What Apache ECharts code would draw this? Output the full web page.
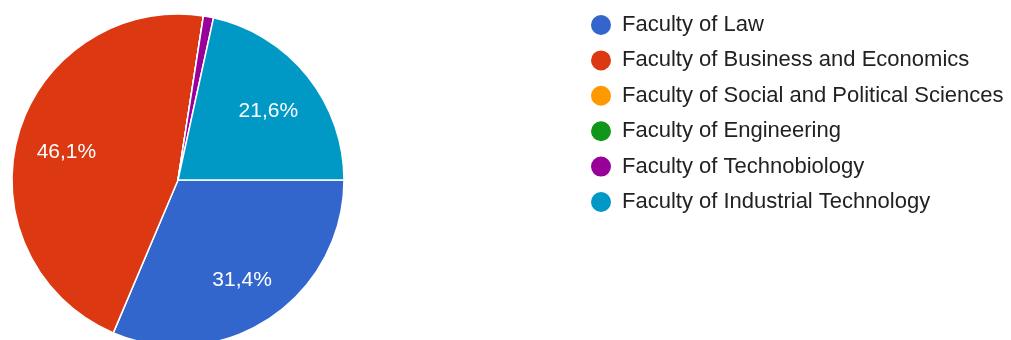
<!DOCTYPE html>
<html>
<head>
<meta charset="utf-8">
<script src="https://cdn.jsdelivr.net/npm/echarts@6/dist/echarts.min.js"></script>
<style>
  html, body { margin: 0; padding: 0; background: #fff; }
  #chart { width: 1011px; height: 340px; }
</style>
</head>
<body>
<div id="chart"></div>
<script>
const faculties = [
  'Faculty of Law',
  'Faculty of Business and Economics',
  'Faculty of Social and Political Sciences',
  'Faculty of Engineering',
  'Faculty of Technobiology',
  'Faculty of Industrial Technology'
]
const responses = [32, 47, 0, 0, 1, 22]
const colors = ['#3366cc', '#dc3912', '#ff9900', '#109618', '#990099', '#0099c6']

const pieData = faculties.map((name, i) => ({ name, value: responses[i] }))

const chart = echarts.init(document.getElementById('chart'))

function pctLabel(p) {
  if (p.percent < 5) return ''
  return p.percent.toFixed(1).replace('.', ',') + '%'
}

chart.setOption({
  color: colors,
  animation: false,
  textStyle: { fontFamily: 'Arial, "Liberation Sans", sans-serif' },
  legend: {
    orient: 'vertical',
    left: 584,
    top: 8,
    icon: 'circle',
    itemWidth: 22,
    itemHeight: 22,
    itemGap: 11.4,
    textStyle: {
      fontSize: 22,
      lineHeight: 22,
      color: '#222',
      padding: [0, 0, 0, 5]
    }
  },
  series: [
    {
      type: 'pie',
      center: [178, 180],
      radius: [0, 166],
      startAngle: 0,
      clockwise: true,
      data: pieData,
      itemStyle: { borderColor: '#fff', borderWidth: 1.5 },
      label: { show: false },
      labelLine: { show: false },
      emphasis: { scale: false }
    },
    {
      // transparent twin, only used to place the percent labels further out
      type: 'pie',
      center: [178, 180],
      radius: [60, 166],
      startAngle: 0,
      clockwise: true,
      silent: true,
      data: pieData,
      itemStyle: { color: 'transparent', borderWidth: 0 },
      label: {
        show: true,
        position: 'inside',
        color: '#fff',
        fontSize: 21,
        offset: [0, 4],
        formatter: pctLabel
      },
      labelLine: { show: false }
    }
  ]
})
</script>
</body>
</html>
